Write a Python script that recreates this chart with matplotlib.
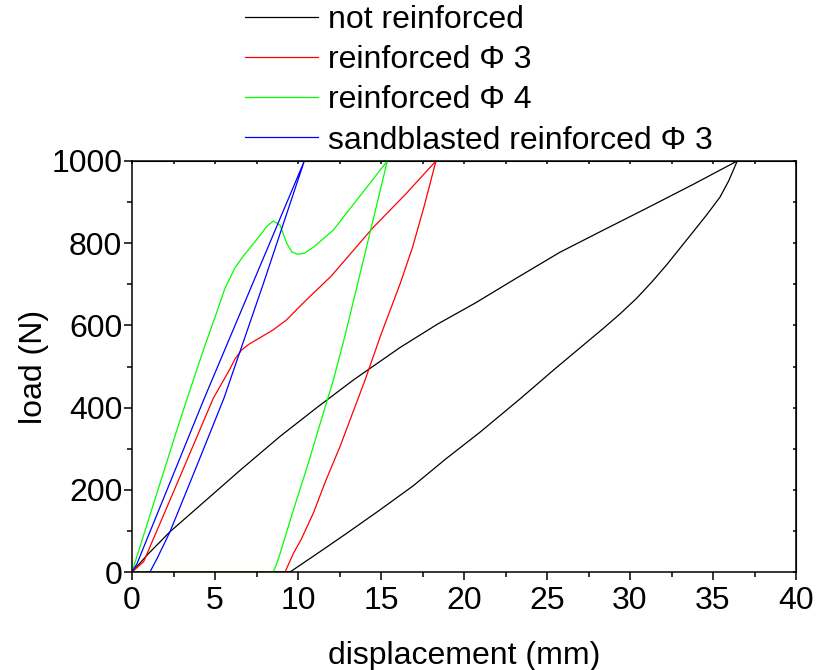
import numpy as np
import matplotlib
matplotlib.use("Agg")
import matplotlib.pyplot as plt

plt.rcParams['font.family'] = ['Liberation Sans', 'DejaVu Sans']

# not reinforced
nr_load_x = [0, 1, 2.29, 4.1, 6.5, 8.92, 11.2, 13.33, 16.14, 18.4, 20.66, 23.2, 25.78, 28.4, 31.0, 33.8, 36.46]
nr_load_y = [0, 45, 98, 162, 247, 330, 402, 467, 546, 603, 654, 716, 778, 832, 885, 943, 1000]
nr_unload_x = [36.46, 35.95, 35.42, 34.6, 33.81, 32.2, 31.3, 30.4, 29.4, 28.4, 25.5, 23.4, 20.96,
               18.9, 16.95, 14.9, 12.93, 11.2, 9.52, 0]
nr_unload_y = [1000, 952, 912, 868, 828, 747, 705, 666, 628, 593, 495, 422, 340,
               275, 210, 150, 94, 46, 0, 0]

# reinforced phi 3
r3_load_x = [0, 0.7, 2.5, 4.9, 5.86, 6.2, 6.6, 7.0, 7.5, 8.5, 9.3, 10.3, 12, 14.5, 16.5, 18.31]
r3_load_y = [0, 25, 195, 423, 491, 518, 540, 553, 565, 589, 613, 654, 720, 837, 920, 1000]
r3_unload_x = [18.31, 17.6, 16.9, 16.14, 15.0, 14.04, 13.2, 12.53, 11.7, 10.92, 10.2, 9.72, 9.22, 0]
r3_unload_y = [1000, 890, 790, 700, 578, 467, 377, 305, 225, 143, 80, 45, 0, 0]

# reinforced phi 4
r4_load_x = [0, 2.7, 3.33, 4.3, 5.0, 5.6, 6.2, 6.71, 7.5, 8.1, 8.51, 8.92, 9.32, 9.62,
             9.98, 10.4, 10.92, 11.5, 12.13, 13.5, 15.38]
r4_load_y = [0, 345, 423, 540, 620, 690, 740, 769, 808, 840, 854, 844, 800, 779,
             773, 776, 790, 810, 832, 903, 1000]
r4_unload_x = [15.38, 13.94, 12.8, 12.13, 11.4, 10.6, 9.6, 8.92, 8.7, 8.5, 0]
r4_unload_y = [1000, 759, 570, 467, 370, 262, 135, 45, 18, 0, 0]

# sandblasted reinforced phi 3
sb_load_x = [0, 0.3, 0.6, 4.36, 10.38]
sb_load_y = [0, 20, 50, 423, 1000]
sb_unload_x = [10.38, 7.9, 5.54, 3.9, 2.29, 1.5, 1.08, 0.9]
sb_unload_y = [1000, 700, 423, 258, 98, 32, 0, 0]

fig = plt.figure(figsize=(8.26, 6.70), dpi=100)
ax = fig.add_axes([132/826, 1 - 572/670, 664/826, 411/670])

lw = 0.9
ax.plot(nr_load_x + nr_unload_x, nr_load_y + nr_unload_y, color='black', lw=lw, label='not reinforced')
ax.plot(r3_load_x + r3_unload_x, r3_load_y + r3_unload_y, color='red', lw=lw, label='reinforced Φ 3')
ax.plot(r4_load_x + r4_unload_x, r4_load_y + r4_unload_y, color='#00ff00', lw=lw, label='reinforced Φ 4')
ax.plot(sb_load_x + sb_unload_x, sb_load_y + sb_unload_y, color='blue', lw=lw,
        label='sandblasted reinforced Φ 3')

ax.set_xlim(0, 40)
ax.set_ylim(0, 1000)
ax.set_xticks(np.arange(0, 41, 5))
ax.set_xticks(np.arange(0, 41, 2.5), minor=True)
ax.set_yticks(np.arange(0, 1001, 200))
ax.set_yticks(np.arange(0, 1001, 100), minor=True)
ax.tick_params(which='major', direction='out', length=6, width=1.1, labelsize=23, pad=4)
ax.tick_params(which='minor', direction='out', length=3.3, width=1.1)
ax.tick_params(axis='y', pad=1)
for s in ax.spines.values():
    s.set_linewidth(1.1)

# inner ticks on top and right
top = ax.secondary_xaxis('top')
top.set_xticks(np.arange(0, 41, 2.5))
top.tick_params(direction='in', length=2.5, width=1.1, labeltop=False)
right = ax.secondary_yaxis('right')
right.set_yticks(np.arange(0, 1001, 100))
right.tick_params(direction='in', length=2.5, width=1.1, labelright=False)

ax.set_xlabel('displacement (mm)', fontsize=23)
ax.set_ylabel('load (N)', fontsize=23)
ax.xaxis.set_label_coords(0.5, -0.168)
ax.yaxis.set_label_coords(-0.125, 0.5)

fig.legend(loc='upper left', bbox_to_anchor=(245/826, 1 - 5/670), frameon=False, fontsize=23,
           handlelength=2.3, handletextpad=0.3, labelspacing=0.32, borderpad=0, borderaxespad=0)

fig.savefig('out.png', dpi=100)
